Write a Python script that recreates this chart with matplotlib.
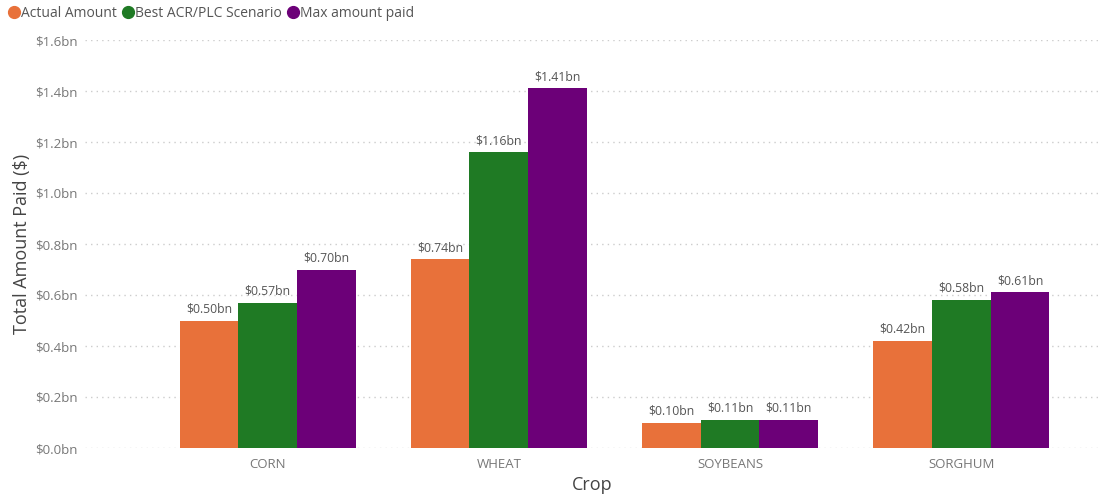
import matplotlib
matplotlib.use("Agg")
import matplotlib.pyplot as plt
from matplotlib.lines import Line2D
import numpy as np

crops = ["CORN", "WHEAT", "SOYBEANS", "SORGHUM"]
series_names = ["Actual Amount", "Best ACR/PLC Scenario", "Max amount paid"]
actual = [0.50, 0.74, 0.10, 0.42]
best = [0.57, 1.16, 0.11, 0.58]
maxpaid = [0.70, 1.41, 0.11, 0.61]
colors = ["#E8713A", "#1F7A24", "#6C0078"]
yticks = [0.0, 0.2, 0.4, 0.6, 0.8, 1.0, 1.2, 1.4, 1.6]

plt.rcParams['font.family'] = ['Open Sans', 'DejaVu Sans']

fig = plt.figure(figsize=(11.03, 4.98), dpi=100)
ax = fig.add_axes([85/1103, 1-448/498, 1015/1103, 408/498])

x = np.arange(len(crops))
w = 0.254
for i, (vals, c) in enumerate(zip([actual, best, maxpaid], colors)):
    bars = ax.bar(x + (i-1)*w, vals, width=w, color=c, zorder=2)
    for b, v in zip(bars, vals):
        ax.text(b.get_x()+b.get_width()/2, v+0.02, f"${v:.2f}bn", ha='center', va='bottom',
                fontsize=8.8, color='#555555')

ax.set_xlim(-0.79, 3.6)
ax.set_ylim(0, 1.6)
ax.set_yticks(yticks)
ax.set_yticklabels([f"${t:.1f}bn" for t in yticks])
ax.set_xticks(x)
ax.set_xticklabels(crops)
ax.tick_params(axis='both', length=0, labelsize=9.5, labelcolor='#777777')
ax.tick_params(axis='y', pad=5)
ax.tick_params(axis='x', pad=7)
ax.grid(axis='y', linestyle=(0, (1, 3)), color='#CCCCCC', linewidth=1, zorder=0)
for s in ax.spines.values():
    s.set_visible(False)

ax.set_ylabel("Total Amount Paid ($)", fontsize=13, color='#444444', labelpad=3)
ax.set_xlabel("Crop", fontsize=13, color='#444444', labelpad=4)

handles = [Line2D([0], [0], marker='o', linestyle='', markersize=8.5, markerfacecolor=c,
                  markeredgecolor=c) for c in colors]
fig.legend(handles, series_names, loc='upper left', bbox_to_anchor=(-0.002, 1.005), ncol=3,
           frameon=False, fontsize=10, handletextpad=-0.1, columnspacing=0.2,
           borderaxespad=0.2, labelcolor='#555555', handlelength=1.2)

fig.savefig("out.png", dpi=100)
